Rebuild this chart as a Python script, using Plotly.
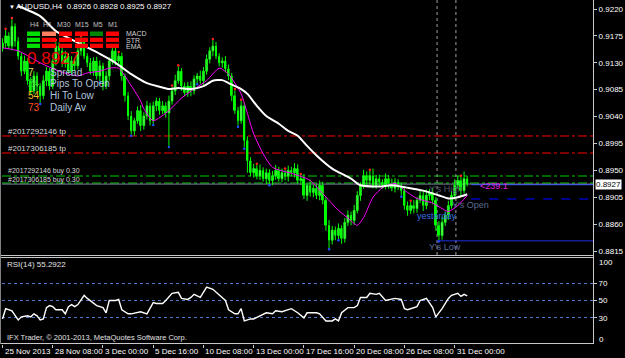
import plotly.graph_objects as go

W, H = 625, 358

# ---------------- data ----------------
CLOSE = [
    0.9163, 0.9175, 0.9158, 0.9191, 0.9166, 0.9141, 0.9116, 0.9133, 0.9100, 0.9083,
    0.9108, 0.9091, 0.9075, 0.9100, 0.9116, 0.9091, 0.9133, 0.9158, 0.9150, 0.9130,
    0.9141, 0.9116, 0.9133, 0.9125, 0.9150, 0.9166, 0.9141, 0.9130, 0.9116, 0.9133,
    0.9108, 0.9125, 0.9091, 0.9108, 0.9133, 0.9150, 0.9133, 0.9141, 0.9108, 0.9075,
    0.9041, 0.9016, 0.9033, 0.9050, 0.9025, 0.9041, 0.9058, 0.9033, 0.9058, 0.9066,
    0.9050, 0.9058, 0.9046, 0.9066, 0.9083, 0.9100, 0.9116, 0.9091, 0.9080, 0.9091,
    0.9083, 0.9103, 0.9108, 0.9100, 0.9116, 0.9136, 0.9150, 0.9158, 0.9141, 0.9130,
    0.9133, 0.9120, 0.9108, 0.9075, 0.9050, 0.9033, 0.9058, 0.9000, 0.8966, 0.8946,
    0.8953, 0.8941, 0.8950, 0.8936, 0.8946, 0.8933, 0.8941, 0.8950, 0.8936, 0.8946,
    0.8940, 0.8950, 0.8946, 0.8953, 0.8933, 0.8936, 0.8908, 0.8925, 0.8913, 0.8920,
    0.8908, 0.8925, 0.8900, 0.8858, 0.8833, 0.8850, 0.8841, 0.8853, 0.8836, 0.8863,
    0.8875, 0.8866, 0.8883, 0.8908, 0.8925, 0.8941, 0.8933, 0.8941, 0.8925, 0.8936,
    0.8930, 0.8925, 0.8936, 0.8928, 0.8920, 0.8930, 0.8923, 0.8916, 0.8891, 0.8883,
    0.8891, 0.8886, 0.8900, 0.8908, 0.8891, 0.8908, 0.8913, 0.8900, 0.8858, 0.8841,
    0.8863, 0.8875, 0.8891, 0.8908, 0.8925, 0.8933, 0.8916, 0.8936, 0.8927,
]
FIRST_OPEN = 0.9155
UP_WICK_PIPS = [
    8, 10, 6, 12, 5, 7, 6, 9, 5, 6,
    8, 6, 5, 9, 7, 5, 10, 8, 6, 7,
    9, 5, 8, 6, 10, 7, 6, 5, 8, 6,
    7, 9, 5, 8, 6, 10, 7, 5, 6, 4,
    6, 8, 5, 7, 9, 6, 8, 5, 7, 6,
    5, 8, 6, 9, 7, 10, 8, 5, 6, 7,
    8, 6, 5, 9, 7, 8, 6, 10, 7, 5,
    6, 8, 7, 5, 9, 6, 8, 5, 7, 6,
    8, 6, 10, 5, 7, 6, 8, 9, 6, 7,
    5, 8, 6, 9, 7, 6, 8, 5, 9, 6,
    7, 8, 6, 5, 9, 7, 6, 8, 5, 7,
    8, 6, 9, 7, 5, 10, 7, 8, 12, 6,
    7, 5, 9, 6, 8, 7, 5, 6, 8, 7,
    6, 9, 5, 8, 7, 10, 6, 8, 5, 7,
    9, 6, 8, 7, 10, 8, 6, 12, 5,
]
DN_WICK_PIPS = [
    6, 8, 5, 7, 9, 6, 8, 5, 7, 6,
    5, 8, 12, 6, 9, 7, 5, 8, 6, 7,
    8, 5, 7, 9, 6, 8, 5, 7, 6, 8,
    6, 9, 7, 5, 8, 6, 7, 5, 8, 10,
    7, 6, 8, 5, 9, 7, 6, 8, 5, 9,
    7, 6, 8, 55, 6, 7, 5, 8, 6, 7,
    9, 6, 7, 5, 8, 6, 7, 9, 5, 6,
    8, 6, 7, 9, 6, 8, 5, 12, 20, 6,
    8, 6, 7, 5, 9, 6, 8, 7, 5, 6,
    7, 9, 6, 8, 5, 7, 6, 9, 7, 8,
    6, 8, 7, 9, 13, 7, 8, 6, 9, 7,
    6, 8, 7, 5, 9, 6, 8, 7, 5, 6,
    8, 6, 7, 9, 5, 7, 6, 8, 7, 9,
    6, 8, 7, 5, 9, 6, 8, 7, 9, 8,
    7, 6, 8, 5, 7, 6, 9, 5, 4,
]
# fractal markers (bar indices)
FRACTAL_UP_I = [1, 3, 17, 25, 37, 54, 56, 67, 74, 76, 81, 90, 95, 117, 130, 146]
FRACTAL_DN_I = [12, 31, 41, 48, 53, 62, 75, 77, 85, 104, 107, 127, 139]

# slow MA (white) and fast MA (magenta): bar index, price
MA_SLOW_I = [5, 12, 17, 25, 31, 36, 41, 46, 50, 53, 56, 60, 64, 67, 70, 72, 76, 78, 81, 84,
             88, 91, 94, 97, 100, 105, 111, 114, 120, 124, 129, 134, 139, 142, 145, 148]
MA_SLOW_V = [0.9225, 0.9208, 0.9183, 0.9161, 0.9145, 0.9130, 0.9111, 0.9096, 0.9090, 0.9086,
             0.9088, 0.9086, 0.9091, 0.9100, 0.9101, 0.9096, 0.9086, 0.9078, 0.9058, 0.9041,
             0.9028, 0.9016, 0.9008, 0.8991, 0.8975, 0.8953, 0.8936, 0.8925, 0.8923, 0.8925,
             0.8921, 0.8916, 0.8908, 0.8903, 0.8905, 0.8910]
MA_FAST_I = [0, 5, 12, 18, 24, 27, 31, 34, 37, 40, 44, 45, 48, 53, 57, 61, 65, 69, 72, 76,
             78, 80, 83, 86, 92, 96, 98, 102, 107, 110, 113, 115, 118, 121, 125, 129, 132, 137,
             140, 142, 145, 148]
MA_FAST_V = [0.9155, 0.9150, 0.9130, 0.9116, 0.9108, 0.9113, 0.9116, 0.9121, 0.9121, 0.9100,
             0.9066, 0.9053, 0.9033, 0.9050, 0.9071, 0.9086, 0.9100, 0.9121, 0.9111, 0.9078,
             0.9045, 0.9011, 0.8978, 0.8955, 0.8945, 0.8938, 0.8933, 0.8911, 0.8883, 0.8870,
             0.8858, 0.8871, 0.8905, 0.8921, 0.8928, 0.8913, 0.8903, 0.8895, 0.8886, 0.8881,
             0.8891, 0.8908]

# RSI(14)
RSI_I = [0, 1, 3, 5, 6, 8, 9, 10, 11, 12, 13, 14, 15, 16, 17, 19, 20, 21, 22, 23, 24, 26, 27,
         29, 30, 32, 33, 34, 36, 37, 38, 40, 41, 44, 46, 48, 49, 51, 52, 54, 56, 57, 59, 60, 61,
         63, 65, 67, 69, 71, 72, 74, 75, 76, 77, 79, 80, 82, 84, 86, 87, 89, 92, 94, 96, 97,
         100, 101, 103, 105, 106, 107, 108, 110, 112, 113, 114, 116, 117, 119, 120, 122, 124,
         125, 127, 128, 129, 131, 132, 133, 135, 137, 138, 140, 142, 143, 145, 146, 147, 148]
RSI_V = [28.8, 40.6, 38.2, 27.7, 31.2, 32.4, 31.2, 34.7, 32.4, 27.7, 28.8, 41.8, 44.1, 42.9,
         39.4, 39.4, 34.7, 42.9, 45.3, 42.9, 45.3, 55.9, 52.4, 46.5, 44.1, 41.8, 35.9, 50.0,
         50.0, 51.2, 39.4, 34.7, 34.7, 37.1, 34.7, 47.6, 46.5, 46.5, 50.0, 58.2, 59.4, 52.4,
         51.2, 53.5, 57.1, 53.5, 65.3, 62.9, 55.9, 50.0, 39.4, 34.7, 34.7, 40.6, 26.5, 28.8,
         28.8, 32.4, 35.9, 34.7, 38.2, 37.1, 40.6, 35.9, 30.0, 35.9, 35.9, 34.7, 26.5, 26.5,
         28.8, 26.5, 35.9, 41.8, 41.8, 44.1, 53.5, 53.5, 58.2, 57.1, 58.2, 50.0, 51.2, 52.4,
         51.2, 40.6, 39.4, 41.8, 42.9, 50.0, 52.4, 41.8, 31.2, 40.6, 52.4, 55.9, 58.2, 54.7,
         57.1, 55.3]

PRICE_TICKS = [0.9220, 0.9175, 0.9130, 0.9085, 0.9040, 0.8995, 0.8950, 0.8905, 0.8860, 0.8815]
RSI_LEVELS = [30, 50, 70]
TIME_TICK_I = [0, 16, 32, 48, 64, 80, 96, 112, 128, 144]
TIME_TICK_LABELS = ["25 Nov 2013", "28 Nov 08:00", "3 Dec 00:00", "5 Dec 16:00", "10 Dec 08:00",
                    "13 Dec 00:00", "17 Dec 16:00", "20 Dec 08:00", "26 Dec 08:00", "31 Dec 00:00"]

TP_LINES = [0.90075, 0.89790]
BUY_LINES = [0.89405, 0.89288]
BID = 0.8927
Y_HIGH = 0.8926
Y_OPEN = 0.8902
Y_LOW = 0.8832
DAY_SEP_I = [138.4, 144.4]
TODAY_I = 149.3

# ---------------- derived OHLC ----------------
OPEN = [FIRST_OPEN] + CLOSE[:-1]
HIGH = [max(o, c) + u / 10000 for o, c, u in zip(OPEN, CLOSE, UP_WICK_PIPS)]
LOW = [min(o, c) - d / 10000 for o, c, d in zip(OPEN, CLOSE, DN_WICK_PIPS)]
IDX = list(range(len(CLOSE)))

FONT = "Liberation Sans"


def px(x):
    return x / W


def py(y):
    return 1 - y / H


X_L, X_R = 2, 593
MAIN_T, MAIN_B = 0, 255
RSI_T, RSI_B = 257, 344
XR = [-0.16, 188.06]

fig = go.Figure()

# wicks
wx, wy = [], []
for i, lo, hi in zip(IDX, LOW, HIGH):
    wx += [i, i, None]
    wy += [lo, hi, None]
fig.add_trace(go.Scatter(x=wx, y=wy, mode="lines", line=dict(color="#00ff00", width=1),
                         xaxis="x", yaxis="y", hoverinfo="skip", showlegend=False))
# bodies
for bull in (True, False):
    bx, bbase, bh = [], [], []
    for i, o, c in zip(IDX, OPEN, CLOSE):
        if (c >= o) == bull:
            bx.append(i)
            bbase.append(min(o, c))
            bh.append(max(abs(c - o), 0.00006))
    fig.add_trace(go.Bar(
        x=bx, y=bh, base=bbase, width=0.62, xaxis="x", yaxis="y",
        marker=dict(color="#d8ffd8" if bull else "#00ff00",
                    line=dict(color="#00ff00", width=0.7 if bull else 0)),
        hoverinfo="skip", showlegend=False))
# fractals
fig.add_trace(go.Scatter(x=FRACTAL_UP_I, y=[HIGH[i] + 0.0002 for i in FRACTAL_UP_I], mode="markers",
                         marker=dict(color="#ff2020", size=2.5), xaxis="x", yaxis="y",
                         hoverinfo="skip", showlegend=False))
fig.add_trace(go.Scatter(x=FRACTAL_DN_I, y=[LOW[i] - 0.0002 for i in FRACTAL_DN_I], mode="markers",
                         marker=dict(color="#2050ff", size=2.5), xaxis="x", yaxis="y",
                         hoverinfo="skip", showlegend=False))

fig.add_trace(go.Scatter(x=MA_FAST_I, y=MA_FAST_V, mode="lines",
                         line=dict(color="#ff00ff", width=1, shape="spline", smoothing=0.6),
                         xaxis="x", yaxis="y", showlegend=False, hoverinfo="skip"))
fig.add_trace(go.Scatter(x=MA_SLOW_I, y=MA_SLOW_V, mode="lines",
                         line=dict(color="#ffffff", width=2, shape="spline", smoothing=0.6),
                         xaxis="x", yaxis="y", showlegend=False, hoverinfo="skip"))
fig.add_trace(go.Scatter(x=RSI_I, y=RSI_V, mode="lines",
                         line=dict(color="#ffffff", width=1.4), xaxis="x2", yaxis="y2",
                         showlegend=False, hoverinfo="skip"))

shapes = []
# order lines
for v in TP_LINES:
    shapes.append(dict(type="line", xref="paper", x0=px(X_L), x1=px(X_R), yref="y", y0=v, y1=v,
                       line=dict(color="#ff0000", width=1, dash="dashdot"), layer="below"))
for v in BUY_LINES:
    shapes.append(dict(type="line", xref="paper", x0=px(X_L), x1=px(X_R), yref="y", y0=v, y1=v,
                       line=dict(color="#00cc00", width=1, dash="dashdot"), layer="below"))
# bid line
shapes.append(dict(type="line", xref="paper", x0=px(X_L), x1=px(X_R), yref="y", y0=BID, y1=BID,
                   line=dict(color="#778899", width=1), layer="below"))
# yesterday levels
shapes.append(dict(type="line", xref="x", x0=TODAY_I, x1=XR[1], yref="y", y0=Y_HIGH, y1=Y_HIGH,
                   line=dict(color="#4060ff", width=1)))
shapes.append(dict(type="line", xref="x", x0=TODAY_I, x1=XR[1], yref="y", y0=Y_OPEN, y1=Y_OPEN,
                   line=dict(color="#000090", width=2, dash="dash")))
shapes.append(dict(type="line", xref="x", x0=DAY_SEP_I[0], x1=XR[1], yref="y", y0=Y_LOW, y1=Y_LOW,
                   line=dict(color="#2030e0", width=1)))
for v in DAY_SEP_I:
    shapes.append(dict(type="line", xref="x", x0=v, x1=v, yref="paper", y0=py(MAIN_B), y1=py(MAIN_T),
                       line=dict(color="#a0a0a0", width=1, dash="dot"), layer="below"))
# frame
frame_col = "#c8c8c8"
shapes += [
    dict(type="line", xref="paper", yref="paper", x0=px(0), x1=px(X_R), y0=py(255.5), y1=py(255.5),
         line=dict(color=frame_col, width=1)),
    dict(type="line", xref="paper", yref="paper", x0=px(0), x1=px(X_R), y0=py(257.5), y1=py(257.5),
         line=dict(color=frame_col, width=1)),
    dict(type="line", xref="paper", yref="paper", x0=px(0), x1=px(X_R), y0=py(343.5), y1=py(343.5),
         line=dict(color=frame_col, width=1)),
    dict(type="line", xref="paper", yref="paper", x0=px(0.5), x1=px(0.5), y0=py(0), y1=py(344),
         line=dict(color="#808080", width=1)),
    dict(type="line", xref="paper", yref="paper", x0=px(X_R + 0.5), x1=px(X_R + 0.5), y0=py(0), y1=py(344),
         line=dict(color=frame_col, width=1)),
]

# signal matrix
cols = [(27, 40), (42, 56), (59, 72), (75, 88), (90, 103), (106, 119)]
rows = [(31.5, 36), (37.7, 42), (43.7, 48)]
row_colors = [
    ["#00dd00", "#ff7f60", "#ff0000", "#ff0000", "#008800", "#ff0000"],
    ["#00dd00", "#ff0000", "#ff0000", "#ff0000", "#ff0000", "#ff0000"],
    ["#00dd00", "#ff0000", "#ff0000", "#ff0000", "#ff0000", "#ff0000"],
]
for (y0, y1), rc in zip(rows, row_colors):
    for (x0, x1), c in zip(cols, rc):
        shapes.append(dict(type="rect", xref="paper", yref="paper", x0=px(x0), x1=px(x1),
                           y0=py(y1), y1=py(y0), fillcolor=c, line=dict(width=0)))

ann = []


def text(x, y, s, color="#ffffff", size=8, xanchor="left", **kw):
    ann.append(dict(xref="paper", yref="paper", x=px(x), y=py(y), text=s, showarrow=False,
                    xanchor=xanchor, yanchor="middle", font=dict(family=FONT, size=size, color=color),
                    **kw))


text(7, 7, "▼", size=6)
text(14, 7, "AUDUSD,H4  0.8926 0.8928 0.8925 0.8927", size=8)
for s, cx in zip(["H4", "H1", "M30", "M15", "M5", "M1"], [34, 48, 64, 82, 98, 113]):
    text(cx, 25, s, color="#c0c0c0", size=7, xanchor="center")
for s, yy in zip(["MACD", "STR", "EMA"], [33.5, 40, 46]):
    text(124, yy, s, color="#d0d0d0", size=7)
text(25, 58, "0.8927", color="#ee0000", size=17)
for num, col, lab, yy in [("7", "#e0e060", "Spread", 72), ("24", "#30d030", "Pips To Open", 83),
                          ("54", "#f0c020", "Hi To Low", 95), ("73", "#ff5020", "Daily Av", 107)]:
    text(26, yy, num, color=col, size=10)
    text(48, yy, lab, color="#b0c4de", size=10)
text(6, 132, "#2017292146 tp", color="#d8d8d8")
text(6, 149, "#2017306185 tp", color="#d8d8d8")
text(6, 171, "#2017292146 buy 0.30", color="#d8d8d8", size=7)
text(6, 180, "#2017306185 buy 0.30", color="#d8d8d8", size=7)
text(427, 189, "Y's High", color="#505a70", size=9)
text(478, 186, "<239.1", color="#e020e0", size=9)
text(450, 204.5, "Y's Open", color="#5a6a90", size=9)
text(415, 216, "yesterday", color="#3a70e0", size=9)
text(427, 247, "Y's Low", color="#5a6a9a", size=9)
text(5, 264, "RSI(14) 55.2922", color="#e0e0e0")
text(5, 337, "IFX Trader, © 2001-2013, MetaQuotes Software Corp.", color="#e0e0e0", size=7.5)
text(597, 262, "100", color="#ffffff")
text(597, 339, "0", color="#ffffff")
# bid price box
ann.append(dict(xref="paper", yref="y", x=px(595), y=BID, text="0.8927", showarrow=False,
                xanchor="left", yanchor="middle", bgcolor="#ffffff", borderpad=0,
                font=dict(family=FONT, size=8, color="#000000")))
# time labels
for i, s in zip(TIME_TICK_I, TIME_TICK_LABELS):
    ann.append(dict(xref="x2", yref="paper", x=i, y=py(351), text=s, showarrow=False,
                    xanchor="left", yanchor="middle", xshift=0,
                    font=dict(family=FONT, size=8, color="#ffffff")))

fig.update_layout(
    width=W, height=H, margin=dict(l=0, r=0, t=0, b=0),
    paper_bgcolor="#000000", plot_bgcolor="#000000",
    showlegend=False, shapes=shapes, annotations=ann, barmode="overlay",
    xaxis=dict(domain=[px(X_L), px(X_R)], range=XR, anchor="y", showgrid=False, zeroline=False,
               showticklabels=False, ticks="", showline=False),
    xaxis2=dict(domain=[px(X_L), px(X_R)], range=XR, anchor="y2", showgrid=False, zeroline=False,
                showticklabels=False, ticks="outside", ticklen=3, tickcolor=frame_col,
                tickvals=TIME_TICK_I, showline=False),
    yaxis=dict(domain=[py(MAIN_B), py(MAIN_T)], range=[0.88083, 0.92351], side="right", anchor="x",
               tickvals=PRICE_TICKS, tickformat=".4f", ticks="outside", ticklen=3, tickcolor=frame_col,
               showgrid=False, zeroline=False, showline=False, automargin=False,
               tickfont=dict(family=FONT, size=8, color="#ffffff")),
    yaxis2=dict(domain=[py(RSI_B), py(RSI_T)], range=[0, 100], side="right", anchor="x2",
                tickvals=RSI_LEVELS, ticks="outside", ticklen=3, tickcolor=frame_col,
                showgrid=True, gridcolor="#4f78c8", griddash="dot", gridwidth=1,
                zeroline=False, showline=False, automargin=False,
                tickfont=dict(family=FONT, size=8, color="#ffffff")),
)

fig.write_html("out.html")
